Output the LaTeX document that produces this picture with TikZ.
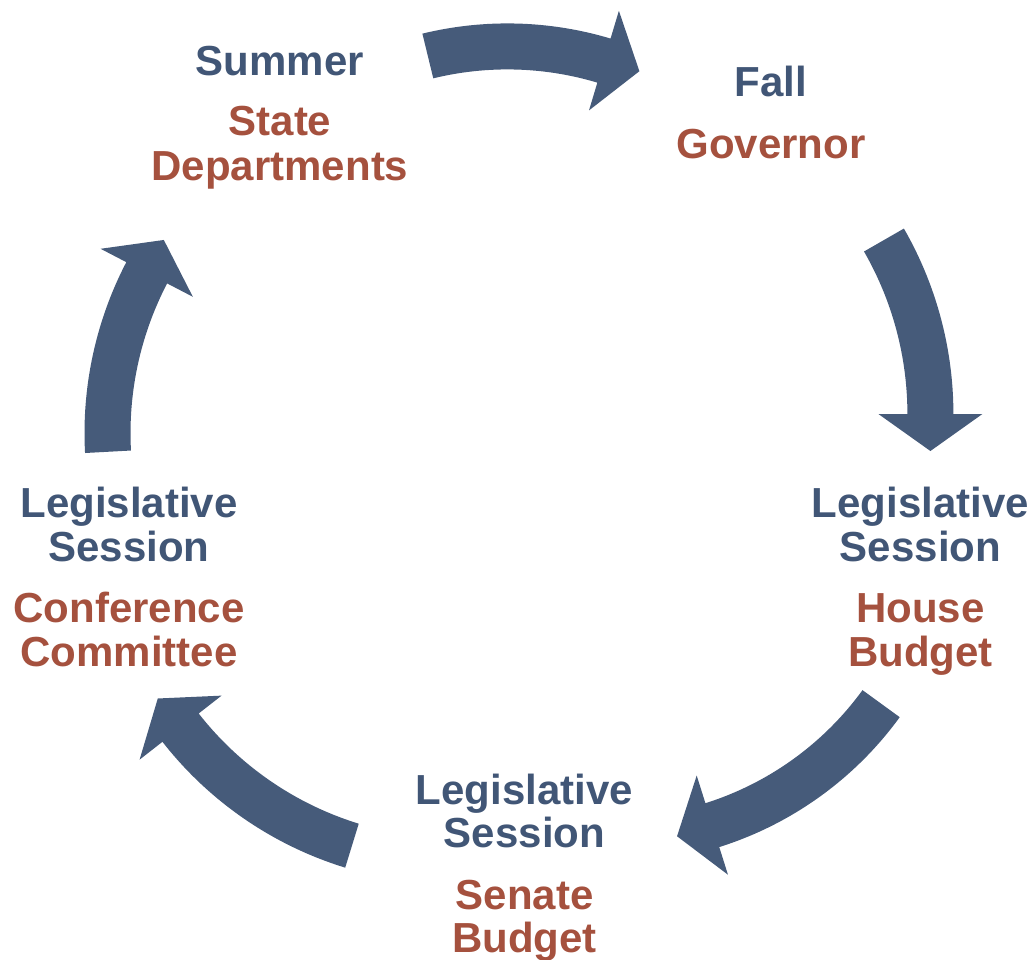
\documentclass[tikz,border=0pt]{standalone}
\usepackage{fontspec}
\setmainfont{Liberation Sans}
\usetikzlibrary{calc}
\definecolor{ablue}{HTML}{465B7A}
\definecolor{tblue}{HTML}{415676}
\definecolor{tred}{HTML}{A5513E}
% cx, cy, R, tail angle, head-base angle (image convention, y down)
\newcommand\cycarrow[5]{%
  \fill[arrowfill]
    ($(#1,#2)+(#4:#3+23)$) arc[start angle=#4, end angle=#5, radius=#3+23]
    -- ($(#1,#2)+(#5:#3+52)$)
    -- ($(#1,#2)+(#5:#3)+(#5+90:37)$)
    -- ($(#1,#2)+(#5:#3-52)$)
    -- ($(#1,#2)+(#5:#3-23)$)
    arc[start angle=#5, end angle=#4, radius=#3-23]
    -- cycle;}
\begin{document}
\begin{tikzpicture}[x=1pt,y=-1pt,
  arrowfill/.style={fill=ablue},
  lbl/.style={anchor=base,inner sep=0pt,font=\fontsize{42}{50}\selectfont\bfseries},
  bl/.style={lbl,text=tblue},
  rd/.style={lbl,text=tred}]
\useasboundingbox (0,0) rectangle (1035,959);
% arrows
\cycarrow{507.4}{382.4}{336}{-103.7}{-73.3}
\cycarrow{581.4}{414}{349}{-29.9}{0}
\cycarrow{612.5}{508.5}{332}{36.0}{72.5}
\cycarrow{454}{514}{347}{107.1}{142.0}
\cycarrow{454.5}{433}{347}{176.9}{207.5}
% Summer
\node[bl] (sum) at (280,75) {Summer};
\node[rd] (sd1) at (280,135.5) {State};
\node[rd] (sd2) at (280,180.5) {Departments};
% Fall
\node[bl] (fall) at (771,96) {Fall};
\node[rd] (gov) at (771,158) {Governor};
% Right
\node[bl] (r1) at (920.5,517.5) {Legislative};
\node[bl] (r2) at (920.5,561) {Session};
\node[rd] (r3) at (920.5,622.5) {House};
\node[rd] (r4) at (920.5,666) {Budget};
% Bottom
\node[bl] (b1) at (524.5,804) {Legislative};
\node[bl] (b2) at (524.5,847.5) {Session};
\node[rd] (b3) at (524.5,909) {Senate};
\node[rd] (b4) at (524.5,952) {Budget};
% Left
\node[bl] (l1) at (129,517.5) {Legislative};
\node[bl] (l2) at (129,561) {Session};
\node[rd] (l3) at (129,622.5) {Conference};
\node[rd] (l4) at (129,666) {Committee};
\end{tikzpicture}
\end{document}
